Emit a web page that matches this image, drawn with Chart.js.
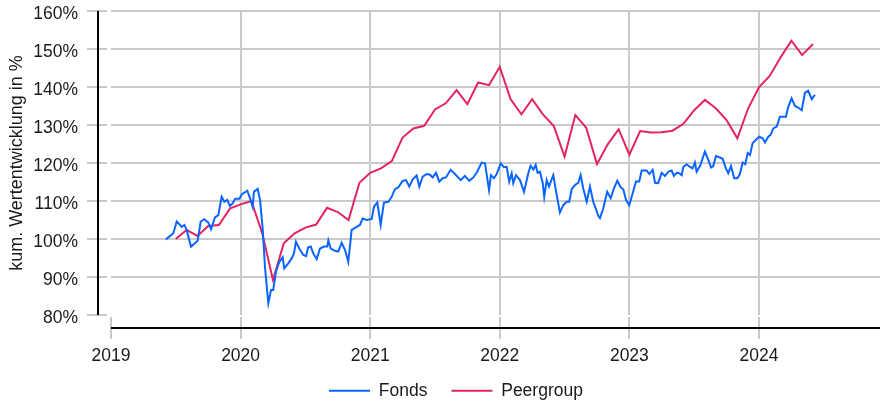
<!DOCTYPE html>
<html>
<head>
<meta charset="utf-8">
<script src="https://cdn.jsdelivr.net/npm/chart.js@4.4.1/dist/chart.umd.min.js"></script>
<style>
  html, body { margin: 0; padding: 0; background: #ffffff; }
  #wrap { width: 880px; height: 405px; }
</style>
</head>
<body>
<div id="wrap"><canvas id="c" width="880" height="405"></canvas></div>
<script>
// ---- data ----
const yearTicks = [2019, 2020, 2021, 2022, 2023, 2024];
const yearLabels = ['2019', '2020', '2021', '2022', '2023', '2024'];
const pctTicks = [80, 90, 100, 110, 120, 130, 140, 150, 160];
const seriesNames = ['Fonds', 'Peergroup'];

// Fonds (weekly-ish), x in decimal years
const fondsX = [
  2019.424, 2019.481, 2019.507, 2019.527, 2019.546, 2019.566, 2019.584, 2019.617, 2019.648, 2019.669,
  2019.692, 2019.720, 2019.751, 2019.772, 2019.802, 2019.828, 2019.854, 2019.874, 2019.897, 2019.918,
  2019.939, 2019.959, 2019.990, 2020.011, 2020.052, 2020.073, 2020.093, 2020.103, 2020.132, 2020.150,
  2020.171, 2020.188, 2020.214, 2020.235, 2020.252, 2020.273, 2020.299, 2020.325, 2020.337, 2020.368,
  2020.394, 2020.412, 2020.427, 2020.453, 2020.484, 2020.505, 2020.522, 2020.541, 2020.561, 2020.587,
  2020.613, 2020.644, 2020.669, 2020.677, 2020.695, 2020.728, 2020.754, 2020.780, 2020.806, 2020.831,
  2020.857, 2020.896, 2020.921, 2020.942, 2020.973, 2021.012, 2021.029, 2021.055, 2021.081, 2021.106,
  2021.140, 2021.166, 2021.191, 2021.217, 2021.251, 2021.276, 2021.302, 2021.328, 2021.359, 2021.379,
  2021.405, 2021.436, 2021.461, 2021.482, 2021.508, 2021.533, 2021.559, 2021.585, 2021.621, 2021.654,
  2021.698, 2021.731, 2021.765, 2021.796, 2021.826, 2021.860, 2021.886, 2021.917, 2021.932, 2021.955,
  2021.976, 2022.007, 2022.032, 2022.053, 2022.073, 2022.092, 2022.104, 2022.125, 2022.156, 2022.187,
  2022.220, 2022.238, 2022.259, 2022.277, 2022.292, 2022.310, 2022.331, 2022.343, 2022.362, 2022.380,
  2022.400, 2022.413, 2022.439, 2022.464, 2022.490, 2022.516, 2022.536, 2022.555, 2022.580, 2022.606,
  2022.624, 2022.644, 2022.671, 2022.696, 2022.721, 2022.740, 2022.760, 2022.773, 2022.799, 2022.829,
  2022.856, 2022.881, 2022.907, 2022.933, 2022.953, 2022.974, 2022.999, 2023.025, 2023.051, 2023.076,
  2023.095, 2023.133, 2023.154, 2023.180, 2023.198, 2023.223, 2023.249, 2023.275, 2023.300, 2023.326,
  2023.344, 2023.365, 2023.385, 2023.404, 2023.416, 2023.442, 2023.468, 2023.488, 2023.506, 2023.519,
  2023.545, 2023.583, 2023.609, 2023.630, 2023.647, 2023.668, 2023.694, 2023.720, 2023.745, 2023.763,
  2023.784, 2023.809, 2023.833, 2023.853, 2023.874, 2023.894, 2023.913, 2023.931, 2023.951, 2023.977,
  2024.002, 2024.029, 2024.046, 2024.072, 2024.090, 2024.110, 2024.137, 2024.162, 2024.183, 2024.208,
  2024.226, 2024.252, 2024.278, 2024.303, 2024.330, 2024.355, 2024.380, 2024.407, 2024.432
];
const fondsY = [
  99.9, 101.5, 104.6, 103.9, 103.2, 103.7, 102.4, 98.0, 98.9, 99.6,
  104.6, 105.2, 104.3, 102.6, 105.7, 106.3, 111.1, 109.8, 110.3, 108.7,
  109.4, 110.6, 110.6, 111.8, 112.7, 110.7, 108.5, 112.4, 113.2, 110.3,
  102.4, 92.7, 83.1, 86.6, 86.6, 91.4, 94.0, 95.2, 92.3, 93.6,
  94.9, 96.2, 99.3, 97.5, 95.8, 95.5, 97.8, 98.0, 96.2, 94.7,
  97.5, 98.0, 98.0, 99.6, 97.5, 96.9, 96.7, 99.0, 97.1, 94.0,
  102.4, 103.2, 103.7, 105.4, 105.0, 105.3, 108.5, 109.6, 103.7, 109.6,
  109.8, 111.1, 113.1, 113.6, 115.3, 115.5, 113.8, 115.7, 116.7, 113.8,
  116.4, 117.1, 116.9, 116.2, 117.4, 115.1, 116.0, 116.2, 118.2, 117.1,
  115.5, 116.6, 115.3, 116.2, 117.7, 120.1, 119.9, 112.9, 116.8, 116.0,
  117.1, 119.9, 118.9, 119.0, 115.1, 117.3, 114.7, 116.8, 115.5, 112.4,
  117.3, 119.3, 118.3, 119.5, 117.4, 117.7, 114.8, 111.1, 115.5, 113.8,
  115.7, 116.8, 111.6, 107.0, 108.9, 109.8, 109.8, 113.1, 114.2, 114.8,
  116.8, 113.3, 109.8, 113.8, 109.8, 108.1, 106.1, 105.5, 108.1, 112.4,
  110.7, 113.3, 115.3, 113.6, 113.1, 110.3, 108.9, 112.0, 115.1, 115.1,
  118.0, 118.0, 117.1, 118.2, 114.8, 114.7, 117.4, 116.6, 117.7, 118.0,
  116.6, 117.4, 117.3, 116.8, 119.0, 119.6, 119.0, 118.6, 120.1, 117.7,
  119.2, 123.0, 120.8, 118.8, 119.2, 121.8, 121.5, 121.1, 118.6, 117.3,
  119.2, 116.0, 116.0, 117.1, 120.1, 119.7, 122.6, 122.1, 125.2, 126.1,
  126.9, 126.5, 125.4, 126.9, 127.4, 129.1, 129.6, 132.2, 132.2, 132.2,
  134.8, 137.0, 135.0, 134.6, 133.9, 138.5, 139.0, 136.8, 137.9
];

// Peergroup (monthly), x in decimal years
const peerX = [
  2019.500, 2019.583, 2019.667, 2019.750, 2019.833, 2019.917,
  2020.000, 2020.083, 2020.167, 2020.250, 2020.333, 2020.417, 2020.500, 2020.583, 2020.667, 2020.750, 2020.833, 2020.917,
  2021.000, 2021.083, 2021.167, 2021.250, 2021.333, 2021.417, 2021.500, 2021.583, 2021.667, 2021.750, 2021.833, 2021.917,
  2022.000, 2022.083, 2022.167, 2022.250, 2022.333, 2022.417, 2022.500, 2022.583, 2022.667, 2022.750, 2022.833, 2022.917,
  2023.000, 2023.083, 2023.167, 2023.250, 2023.333, 2023.417, 2023.500, 2023.583, 2023.667, 2023.750, 2023.833, 2023.917,
  2024.000, 2024.083, 2024.167, 2024.250, 2024.333, 2024.417
];
const peerY = [
  100.0, 102.4, 100.8, 103.4, 103.7, 108.0,
  109.1, 110.0, 101.5, 89.2, 98.9, 101.5, 103.0, 103.8, 108.2, 107.1, 105.0, 114.8,
  117.4, 118.6, 120.5, 126.7, 129.1, 129.8, 134.1, 135.7, 139.2, 135.5, 141.2, 140.5,
  145.3, 136.8, 132.8, 136.8, 132.8, 129.7, 121.7, 132.6, 129.3, 119.7, 124.9, 128.9,
  122.2, 128.4, 128.0, 128.1, 128.5, 130.3, 133.9, 136.6, 134.4, 131.3, 126.5, 134.4,
  139.9, 142.9, 147.8, 152.2, 148.4, 151.3
];

// ---- styling ----
const FONT = "'Liberation Sans', Arial, Helvetica, sans-serif";
const GRID = '#c9c9c9';
const TEXT = '#1a1a1a';
const BLUE = '#0a64ff';
const RED = '#e5245f';

Chart.defaults.font.family = FONT;
Chart.defaults.font.size = 17.5;
Chart.defaults.color = TEXT;

const sepAxes = {
  id: 'sepAxes',
  afterLayout(chart) {
    const lg = chart.legend;
    if (lg) { lg.left += 16; lg.right += 16; lg.top -= 12; lg.bottom -= 12; }
  },
  beforeDatasetsDraw(chart) {
    const { ctx, chartArea: a, scales } = chart;
    const x = scales.x, y = scales.y;
    ctx.save();
    ctx.lineWidth = 2;
    ctx.strokeStyle = GRID;
    ctx.beginPath();
    y.ticks.forEach(t => {
      const py = Math.round(y.getPixelForValue(t.value));
      ctx.moveTo(a.left - 24, py); ctx.lineTo(a.left - 4, py);
    });
    x.ticks.forEach(t => {
      const px = Math.round(x.getPixelForValue(t.value));
      ctx.moveTo(px, a.bottom + 2); ctx.lineTo(px, a.bottom + 24);
    });
    ctx.stroke();
    ctx.strokeStyle = '#000000';
    ctx.beginPath();
    const ax = a.left - 13;
    ctx.moveTo(ax, y.getPixelForValue(pctTicks[pctTicks.length - 1]));
    ctx.lineTo(ax, y.getPixelForValue(pctTicks[0]));
    const ay = a.bottom + 13;
    ctx.moveTo(a.left, ay); ctx.lineTo(a.right, ay);
    ctx.stroke();
    ctx.restore();
  }
};

new Chart(document.getElementById('c'), {
  type: 'line',
  data: {
    datasets: [
      {
        label: seriesNames[0],
        data: fondsX.map((v, i) => ({ x: v, y: fondsY[i] })),
        borderColor: BLUE, backgroundColor: BLUE,
        borderWidth: 2, pointRadius: 0, tension: 0, fill: false
      },
      {
        label: seriesNames[1],
        data: peerX.map((v, i) => ({ x: v, y: peerY[i] })),
        borderColor: RED, backgroundColor: RED,
        borderWidth: 2, pointRadius: 0, tension: 0, fill: false
      }
    ]
  },
  options: {
    responsive: false,
    animation: false,
    events: [],
    layout: { padding: { top: 11, right: 0, bottom: -16.5, left: 0 } },
    plugins: {
      tooltip: { enabled: false },
      legend: {
        position: 'bottom',
        labels: {
          boxWidth: 41, boxHeight: 0, padding: 24,
          color: TEXT, font: { size: 17.5 }
        }
      }
    },
    scales: {
      x: {
        type: 'linear',
        min: yearTicks[0],
        max: 2024.934,
        afterBuildTicks: s => { s.ticks = yearTicks.map(v => ({ value: v })); },
        afterFit: s => { s.height = 55; },
        ticks: {
          padding: 31,
          maxRotation: 0,
          autoSkip: false,
          callback: (v) => yearLabels[yearTicks.indexOf(v)]
        },
        grid: {
          drawTicks: false,
          lineWidth: 2,
          color: c => (c.tick && c.tick.value === yearTicks[0]) ? 'rgba(0,0,0,0)' : GRID
        },
        border: { display: false }
      },
      y: {
        type: 'linear',
        min: pctTicks[0],
        max: pctTicks[pctTicks.length - 1],
        afterBuildTicks: s => { s.ticks = pctTicks.map(v => ({ value: v })); },
        afterFit: s => { s.width = 111; s.paddingTop = 8; s.paddingBottom = 8; },
        ticks: {
          padding: 33,
          labelOffset: 3.5,
          callback: v => v + '%'
        },
        grid: {
          drawTicks: false,
          lineWidth: 2,
          color: c => (c.tick && c.tick.value === pctTicks[0]) ? 'rgba(0,0,0,0)' : GRID
        },
        border: { display: false },
        title: {
          display: true,
          text: 'kum. Wertentwicklung in %',
          color: TEXT,
          font: { size: 18 },
          padding: { top: 6, bottom: 0 }
        }
      }
    }
  },
  plugins: [sepAxes]
});
</script>
</body>
</html>
